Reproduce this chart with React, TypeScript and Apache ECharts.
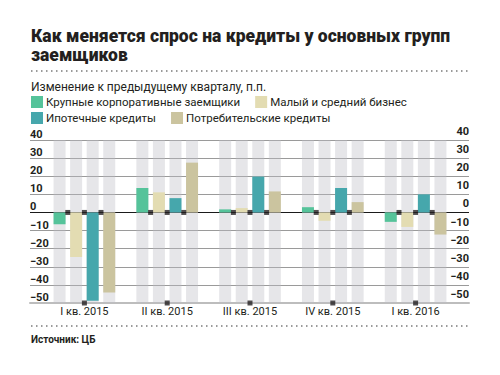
import React, { useEffect, useRef } from "react";
import * as echarts from "echarts";

const categories = ["I кв. 2015", "II кв. 2015", "III кв. 2015", "IV кв. 2015", "I кв. 2016"];
const seriesNames = [
  "Крупные корпоративные заемщики",
  "Малый и средний бизнес",
  "Ипотечные кредиты",
  "Потребительские кредиты",
];
const corporate = [-6.5, 13.5, 1.7, 2.9, -5.2];
const smallBusiness = [-24.6, 11.1, 2.4, -4.6, -8.0];
const mortgage = [-48.8, 7.9, 19.8, 13.5, 10.0];
const consumer = [-44.2, 27.5, 11.6, 5.7, -12.2];
const seriesColors = ["#55c39a", "#e3dcb2", "#46a7ac", "#cbc49f"];
const yMin = -50;
const yMax = 40;
const yInterval = 10;

const titleText = "Как меняется спрос на кредиты у основных групп\nзаемщиков";
const subtitleText = "Изменение к предыдущему кварталу, п.п.";
const sourceText = "Источник: ЦБ";

const FONT = "Roboto, 'Noto Sans', sans-serif";
const INK = "#231f20";

const fmt = (v: number) => String(v).replace("-", "\u2212");

export default function App() {
  const ref = useRef<HTMLDivElement>(null);

  useEffect(() => {
    if (!ref.current) return;
    const chart = echarts.init(ref.current, null, { renderer: "svg" });
    const values = [corporate, smallBusiness, mortgage, consumer];

    const tickCount = (yMax - yMin) / yInterval + 1;
    const splitColors: string[] = [];
    for (let i = 0; i < tickCount; i++) {
      const v = yMin + i * yInterval;
      splitColors.push(v === 0 ? "#1a1a1a" : v === yMin ? "rgba(0,0,0,0)" : "#9a9a9a");
    }

    const barSeries = values.map((data, i) => ({
      type: "bar",
      name: seriesNames[i],
      xAxisIndex: 1,
      yAxisIndex: 2,
      data,
      barWidth: 12,
      barGap: "38%",
      itemStyle: { color: seriesColors[i] },
      showBackground: true,
      backgroundStyle: { color: "rgba(190,190,198,0.38)" },
      z: 2,
    }));

    const zeroLine = categories.map(() => 0);
    const bottomLine = categories.map(() => yMin);
    const markerSeries: any[] = [-16.6, 0, 16.6].map((off) => ({
      type: "scatter",
      xAxisIndex: 1,
      yAxisIndex: 2,
      data: zeroLine,
      symbol: "rect",
      symbolSize: 5,
      symbolOffset: [off, 0],
      itemStyle: { color: INK },
      silent: true,
      clip: false,
      z: 5,
    }));
    markerSeries.push({
      type: "scatter",
      xAxisIndex: 1,
      yAxisIndex: 2,
      data: bottomLine,
      symbol: "rect",
      symbolSize: 5,
      symbolOffset: [0, 0],
      itemStyle: { color: INK },
      silent: true,
      clip: false,
      z: 5,
    });

    const legendCommon = {
      left: 31,
      itemWidth: 12,
      itemHeight: 12,
      itemGap: 15,
      icon: "rect",
      padding: 0,
      selectedMode: false,
      textStyle: { fontFamily: FONT, fontSize: 11.5, color: INK, padding: [0, 0, 0, -2] },
    };

    chart.setOption({
      animation: false,
      backgroundColor: "#ffffff",
      textStyle: { fontFamily: FONT },
      title: [
        {
          text: titleText,
          left: 31,
          top: 27,
          padding: 0,
          textStyle: { fontFamily: FONT, fontSize: 17.5, fontWeight: 900, lineHeight: 18.5, color: INK },
        },
        {
          text: subtitleText,
          left: 31,
          top: 81,
          padding: 0,
          textStyle: { fontFamily: FONT, fontSize: 12, fontWeight: "normal", color: INK },
        },
        {
          text: sourceText,
          left: 31,
          top: 334,
          padding: 0,
          textStyle: { fontFamily: FONT, fontSize: 10, fontWeight: "bold", color: INK },
        },
      ],
      legend: [
        { ...legendCommon, top: 96, data: [seriesNames[0], seriesNames[1]] },
        { ...legendCommon, top: 112, data: [seriesNames[2], seriesNames[3]] },
      ],
      grid: [
        { left: 30, right: 31, top: 140, bottom: 72 },
        { left: 43, right: 43, top: 140, bottom: 72 },
      ],
      xAxis: [
        {
          gridIndex: 0,
          type: "value",
          min: 0,
          max: 1,
          axisLabel: { show: false },
          axisTick: { show: false },
          splitLine: { show: false },
          axisLine: { show: true, onZero: false, lineStyle: { color: "#bdbdbd", width: 2 } },
        },
        {
          gridIndex: 1,
          type: "category",
          data: categories,
          axisLine: { show: false, onZero: false },
          axisTick: { show: false },
          axisLabel: { margin: 3, fontFamily: FONT, fontSize: 11, color: INK },
        },
      ],
      yAxis: [
        {
          gridIndex: 0,
          type: "value",
          min: yMin,
          max: yMax,
          interval: yInterval,
          position: "left",
          axisLine: { show: false },
          axisTick: { show: false },
          axisLabel: {
            inside: true,
            margin: 0,
            align: "left",
            verticalAlign: "bottom",
            fontFamily: FONT,
            fontSize: 11,
            fontWeight: "bold",
            color: INK,
            formatter: fmt,
          },
          splitLine: { show: true, lineStyle: { color: splitColors, width: 1 } },
        },
        {
          gridIndex: 0,
          type: "value",
          min: yMin,
          max: yMax,
          interval: yInterval,
          position: "right",
          axisLine: { show: false },
          axisTick: { show: false },
          axisLabel: {
            inside: true,
            margin: 0,
            align: "right",
            verticalAlign: "bottom",
            padding: [0, 0, 3, 0],
            fontFamily: FONT,
            fontSize: 11,
            fontWeight: "bold",
            color: INK,
            formatter: fmt,
          },
          splitLine: { show: false },
        },
        {
          gridIndex: 1,
          type: "value",
          min: yMin,
          max: yMax,
          interval: yInterval,
          show: false,
          splitLine: { show: false },
        },
      ],
      graphic: [
        {
          type: "line",
          shape: { x1: 31, y1: 71, x2: 470, y2: 71 },
          style: { stroke: "#7a7a7a", lineWidth: 1.5, lineDash: [1.5, 3.5] },
          silent: true,
        },
        {
          type: "line",
          shape: { x1: 31, y1: 326, x2: 470, y2: 326 },
          style: { stroke: "#7a7a7a", lineWidth: 1.5, lineDash: [1.5, 3.5] },
          silent: true,
        },
      ],
      series: [...barSeries, ...markerSeries],
    });

    return () => chart.dispose();
  }, []);

  return (
    <div
      ref={ref}
      style={{ position: "fixed", left: 0, top: 0, width: 500, height: 375, background: "#fff" }}
    />
  );
}
